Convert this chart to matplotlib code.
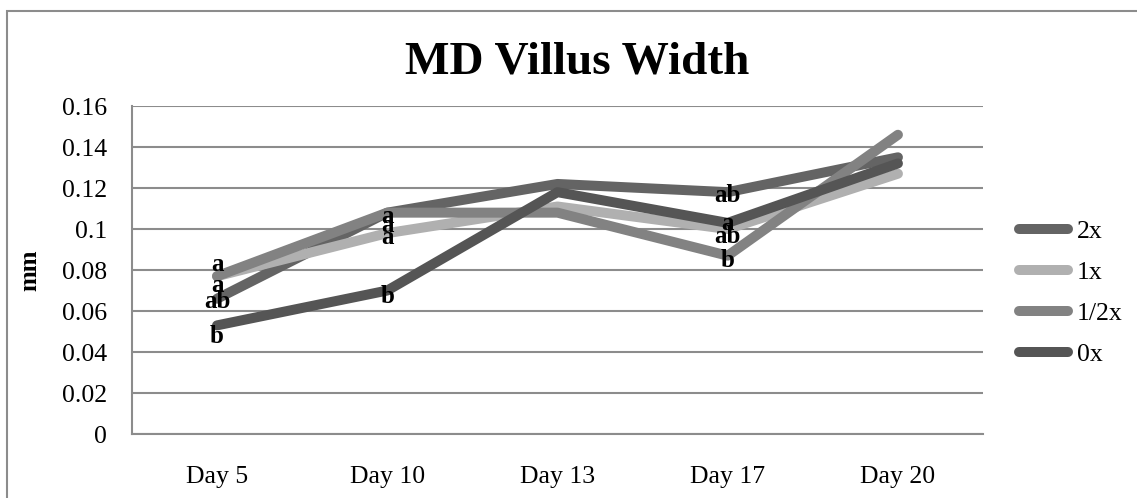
import matplotlib.pyplot as plt
from matplotlib.patches import Rectangle

days = ["Day 5", "Day 10", "Day 13", "Day 17", "Day 20"]
series_names = ["2x", "1x", "1/2x", "0x"]
width_2x = [0.066, 0.108, 0.122, 0.118, 0.135]
width_1x = [0.077, 0.098, 0.111, 0.100, 0.127]
width_half = [0.077, 0.108, 0.108, 0.087, 0.146]
width_0x = [0.053, 0.070, 0.118, 0.103, 0.132]
colors = ["#646464", "#b0b0b0", "#828282", "#555555"]

# significance letters: (day index, y value, text)
letters = [
    (0, 0.0825, "a"), (0, 0.0725, "a"), (0, 0.0645, "ab"), (0, 0.0475, "b"),
    (1, 0.1060, "a"), (1, 0.1015, "a"), (1, 0.0960, "a"), (1, 0.0670, "b"),
    (3, 0.1165, "ab"), (3, 0.1025, "a"), (3, 0.0965, "ab"), (3, 0.0845, "b"),
]

plt.rcParams['font.family'] = ['Liberation Serif', 'DejaVu Serif']

fig = plt.figure(figsize=(11.37, 4.98), dpi=100)
ax = fig.add_axes([0.116, 0.1285, 0.7486, 0.6585])

x = list(range(len(days)))
data = [width_2x, width_1x, width_half, width_0x]
for vals, name, c in zip(data, series_names, colors):
    ax.plot(x, vals, color=c, lw=7.2, solid_capstyle='round',
            solid_joinstyle='round', label=name)

for i, yv, t in letters:
    ax.text(x[i], yv, t, ha='center', va='center', fontsize=18,
            fontweight='bold', color='black', zorder=5)

ax.set_xlim(-0.5, 4.5)
ax.set_ylim(0, 0.16)
ax.set_yticks([0, 0.02, 0.04, 0.06, 0.08, 0.1, 0.12, 0.14, 0.16])
ax.set_yticklabels(["0", "0.02", "0.04", "0.06", "0.08", "0.1", "0.12",
                    "0.14", "0.16"])
ax.set_xticks(x)
ax.set_xticklabels(days)
ax.tick_params(length=0, labelsize=18.5)
ax.tick_params(axis='y', pad=18)
ax.tick_params(axis='x', pad=23)
ax.yaxis.grid(True, color='#8c8c8c', lw=1.5)
ax.set_axisbelow(True)
for s in ['top', 'right']:
    ax.spines[s].set_visible(False)
for s in ['left', 'bottom']:
    ax.spines[s].set_color('#8c8c8c')
    ax.spines[s].set_linewidth(1.5)

ax.set_ylabel("mm", fontsize=18, fontweight='bold', labelpad=15)
fig.text(0.508, 0.875, "MD Villus Width", ha='center', va='center',
         fontsize=34, fontweight='bold')

ax.legend(loc='center left', bbox_to_anchor=(1.015, 0.43), frameon=False,
          fontsize=18.5, handlelength=1.9, handletextpad=0.35,
          labelspacing=0.7)

fig.patches.append(Rectangle((7 / 1137, -0.1), 1.2, 1 - 11 / 498 + 0.1,
                             transform=fig.transFigure, fill=False,
                             edgecolor='#8c8c8c', lw=1.5))

fig.savefig("out.png", dpi=100)
